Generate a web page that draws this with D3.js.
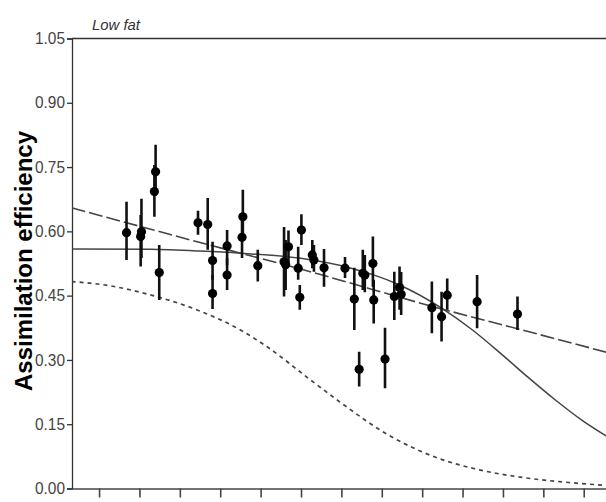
<!DOCTYPE html>
<html>
<head>
<meta charset="utf-8">
<script src="https://cdn.jsdelivr.net/npm/d3@7"></script>
<style>
  body { margin: 0; background: #fff; }
  svg { display: block; }
  .tick text { font-family: "Liberation Sans", Arial, sans-serif; }
</style>
</head>
<body>
<svg id="chart"></svg>
<script>
// observed points: x position, efficiency, error bar low / high
const ptX  = [1.68, 2.03, 2.05, 2.40, 2.37, 2.49, 3.45, 3.69, 3.81, 3.81, 4.17, 4.17, 4.56, 4.54, 4.93,
              5.58, 5.62, 5.69, 5.93, 5.97, 6.01, 6.28, 6.32, 6.57, 7.09, 7.32, 7.44, 7.53, 7.58, 7.78,
              7.80, 8.08, 8.31, 8.44, 8.48, 9.24, 9.48, 9.62, 10.36, 11.36];
const ptY  = [0.597, 0.588, 0.599, 0.739, 0.693, 0.504, 0.620, 0.616, 0.532, 0.455, 0.566, 0.498, 0.634, 0.586, 0.520,
              0.529, 0.522, 0.564, 0.514, 0.446, 0.603, 0.545, 0.533, 0.515, 0.514, 0.442, 0.278, 0.502, 0.498, 0.525,
              0.440, 0.302, 0.448, 0.469, 0.453, 0.422, 0.401, 0.451, 0.436, 0.407];
const ptLo = [0.533, 0.518, 0.538, 0.683, 0.634, 0.440, 0.592, 0.557, 0.487, 0.419, 0.521, 0.463, 0.580, 0.538, 0.483,
              0.448, 0.463, 0.522, 0.487, 0.417, 0.568, 0.514, 0.506, 0.471, 0.491, 0.370, 0.238, 0.463, 0.458, 0.471,
              0.385, 0.234, 0.393, 0.417, 0.405, 0.362, 0.343, 0.417, 0.374, 0.370];
const ptHi = [0.669, 0.638, 0.676, 0.802, 0.755, 0.568, 0.648, 0.678, 0.576, 0.498, 0.603, 0.538, 0.697, 0.638, 0.557,
              0.610, 0.580, 0.602, 0.564, 0.475, 0.640, 0.580, 0.568, 0.559, 0.540, 0.515, 0.319, 0.557, 0.545, 0.588,
              0.487, 0.375, 0.506, 0.518, 0.505, 0.483, 0.459, 0.490, 0.498, 0.448];

// fitted curves
const dashX  = [0.32, 3.50, 5.99, 9.48, 11.47, 13.60];
const dashY  = [0.655, 0.574, 0.512, 0.419, 0.370, 0.317];
const solidX = [0.32, 2.26, 3.50, 4.50, 5.99, 7.24, 7.78, 8.41, 9.48, 10.23, 10.97, 11.64, 12.29, 12.96, 13.60];
const solidY = [0.559, 0.558, 0.554, 0.549, 0.537, 0.514, 0.499, 0.476, 0.421, 0.371, 0.313, 0.258, 0.207, 0.159, 0.120];
const dotX   = [0.32, 1.27, 2.26, 3.50, 4.50, 5.17, 6.24, 6.99, 8.16, 9.30, 10.30, 11.39, 12.63, 13.60];
const dotY   = [0.483, 0.473, 0.452, 0.414, 0.370, 0.330, 0.253, 0.200, 0.125, 0.074, 0.046, 0.027, 0.014, 0.007];

const xTicks = d3.range(1, 14);
const yTicks = [0, 0.15, 0.30, 0.45, 0.60, 0.75, 0.90, 1.05];

const width = 606, height = 502;
const margin = { top: 38.5, left: 72, bottom: 13.5 };
const right = 612;

const svg = d3.select("#chart").attr("width", width).attr("height", height);

const x = d3.scaleLinear().domain([0.33, 13.7]).range([margin.left, right]);
const y = d3.scaleLinear().domain([0, 1.05]).range([height - margin.bottom, margin.top]);

svg.append("defs").append("clipPath").attr("id", "clip")
  .append("rect")
  .attr("x", margin.left).attr("y", margin.top)
  .attr("width", right - margin.left).attr("height", y(0) - margin.top);

// frame top
svg.append("line")
  .attr("x1", margin.left).attr("x2", right)
  .attr("y1", margin.top).attr("y2", margin.top)
  .attr("stroke", "#333").attr("stroke-width", 1.3);

// y axis
const yAxis = svg.append("g")
  .attr("transform", "translate(" + margin.left + ",0)")
  .call(d3.axisLeft(y).tickValues(yTicks).tickFormat(d3.format(".2f")).tickSize(5).tickPadding(2));
yAxis.select(".domain").attr("stroke", "#333").attr("stroke-width", 1.3);
yAxis.selectAll(".tick line").attr("stroke", "#333").attr("stroke-width", 1.3);
yAxis.selectAll(".tick text").attr("font-size", 16).attr("fill", "#444")
  .attr("textLength", 30).attr("lengthAdjust", "spacingAndGlyphs");

// x axis (labels cut off in the source)
const xAxis = svg.append("g")
  .attr("transform", "translate(0," + y(0) + ")")
  .call(d3.axisBottom(x).tickValues(xTicks).tickFormat("").tickSize(9).tickSizeOuter(0));
xAxis.select(".domain").attr("stroke", "#444").attr("stroke-width", 1.6);
xAxis.selectAll(".tick line").attr("stroke", "#444").attr("stroke-width", 1.6);

// axis title
svg.append("text")
  .attr("transform", "translate(32," + 261 + ") rotate(-90)")
  .attr("text-anchor", "middle")
  .attr("font-family", "Liberation Sans, Arial, sans-serif")
  .attr("font-weight", "bold")
  .attr("font-size", 24)
  .attr("fill", "#000")
  .text("Assimilation efficiency");

svg.append("text")
  .attr("x", 92).attr("y", 30)
  .attr("font-family", "Liberation Sans, Arial, sans-serif")
  .attr("font-style", "italic")
  .attr("font-size", 15)
  .attr("fill", "#333")
  .attr("textLength", 48).attr("lengthAdjust", "spacingAndGlyphs")
  .text("Low fat");

const plot = svg.append("g").attr("clip-path", "url(#clip)");

const line = d3.line()
  .x(d => x(d[0]))
  .y(d => y(d[1]))
  .curve(d3.curveMonotoneX);

plot.append("path")
  .datum(d3.zip(dotX, dotY))
  .attr("fill", "none").attr("stroke", "#444").attr("stroke-width", 1.7)
  .attr("stroke-dasharray", "4 4")
  .attr("d", line);

plot.append("path")
  .datum(d3.zip(dashX, dashY))
  .attr("fill", "none").attr("stroke", "#444").attr("stroke-width", 1.6)
  .attr("stroke-dasharray", "14 4")
  .attr("d", line);

plot.append("path")
  .datum(d3.zip(solidX, solidY))
  .attr("fill", "none").attr("stroke", "#444").attr("stroke-width", 1.5)
  .attr("d", line);

const pts = ptX.map((v, i) => ({ x: v, y: ptY[i], lo: ptLo[i], hi: ptHi[i] }));

plot.selectAll(".err").data(pts).join("line")
  .attr("class", "err")
  .attr("x1", d => x(d.x)).attr("x2", d => x(d.x))
  .attr("y1", d => y(d.lo)).attr("y2", d => y(d.hi))
  .attr("stroke", "#111").attr("stroke-width", 2.6);

plot.selectAll(".pt").data(pts).join("circle")
  .attr("class", "pt")
  .attr("cx", d => x(d.x)).attr("cy", d => y(d.y))
  .attr("r", 4.6)
  .attr("fill", "#000");
</script>
</body>
</html>
